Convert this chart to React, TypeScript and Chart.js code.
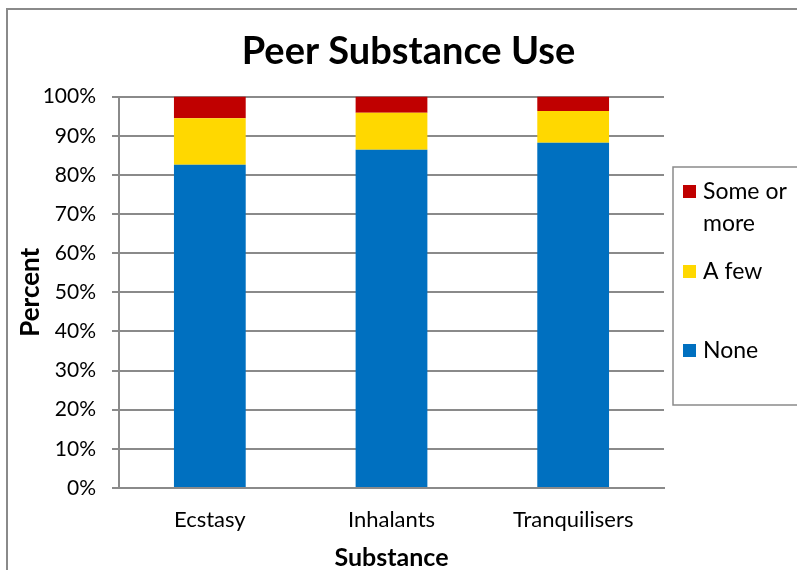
import React, { useEffect, useRef } from "react";
import { Chart, registerables } from "chart.js";

Chart.register(...registerables);

const categories = ["Ecstasy", "Inhalants", "Tranquilisers"];
const noneValues = [82.6, 86.4, 88.2];
const aFewValues = [11.9, 9.5, 8.1];
const someOrMoreValues = [5.5, 4.1, 3.7];
const yTicks = [0, 10, 20, 30, 40, 50, 60, 70, 80, 90, 100];
const seriesLabels = ["None", "A few", "Some or more"];
const seriesColors = ["#0070C0", "#FFD800", "#C00000"];

const FONT = "Lato, 'Noto Sans', sans-serif";

const framePlugin = {
  id: "frame",
  beforeDraw(chart: any) {
    const ctx = chart.ctx;
    ctx.save();
    ctx.fillStyle = "#ffffff";
    ctx.fillRect(0, 0, chart.width, chart.height);
    ctx.strokeStyle = "#8a8a8a";
    ctx.lineWidth = 2;
    ctx.strokeRect(7, 9, chart.width + 50, chart.height + 50);
    ctx.restore();
  },
};

const legendPlugin = {
  id: "customLegend",
  afterDraw(chart: any) {
    const ctx = chart.ctx;
    const x0 = 673;
    const y0 = 167;
    ctx.save();
    ctx.strokeStyle = "#8a8a8a";
    ctx.lineWidth = 1.5;
    ctx.strokeRect(x0, y0, 200, 238);
    ctx.font = `23px ${FONT}`;
    ctx.textBaseline = "middle";
    ctx.fillStyle = "#000";
    const ds = chart.data.datasets.slice().reverse();
    const rows = [191, 271, 350];
    ds.forEach((d: any, i: number) => {
      const cy = rows[i];
      ctx.fillStyle = d.backgroundColor;
      ctx.fillRect(x0 + 10, cy - 6, 13, 13);
      ctx.fillStyle = "#000";
      const label: string = d.label;
      if (label === "Some or more") {
        ctx.fillText("Some or", x0 + 30, cy + 1);
        ctx.fillText("more", x0 + 30, cy + 33);
      } else {
        ctx.fillText(label, x0 + 30, cy + 1);
      }
    });
    ctx.restore();
  },
};

export default function App() {
  const ref = useRef<HTMLCanvasElement | null>(null);
  useEffect(() => {
    if (!ref.current) return;
    const valuesList = [noneValues, aFewValues, someOrMoreValues];
    const chart = new Chart(ref.current, {
      type: "bar",
      data: {
        labels: categories,
        datasets: valuesList.map((vals, i) => ({
          label: seriesLabels[i],
          data: vals,
          backgroundColor: seriesColors[i],
          borderWidth: 0,
          barPercentage: 0.395,
          categoryPercentage: 1,
        })),
      },
      options: {
        animation: false,
        responsive: false,
        layout: { padding: 0 },
        plugins: {
          legend: { display: false },
          tooltip: { enabled: false },
          title: {
            display: true,
            text: "Peer Substance Use",
            color: "#000",
            font: { family: FONT, size: 38, weight: "bold", lineHeight: 1.2 },
            padding: { top: 29, bottom: 22 },
          },
        },
        scales: {
          x: {
            stacked: true,
            grid: { display: false },
            border: { display: true, color: "#8a8a8a", width: 2 },
            ticks: { color: "#000", font: { family: FONT, size: 22 }, padding: 11 },
            title: {
              display: true,
              text: "Substance",
              color: "#000",
              font: { family: FONT, size: 25, weight: "bold", lineHeight: 1.0 },
              padding: { top: 4, bottom: 0 },
            },
            afterFit: (s: any) => {
              s.height = 82;
            },
          },
          y: {
            stacked: true,
            min: 0,
            max: 100,
            afterBuildTicks: (s: any) => {
              s.ticks = yTicks.map((v) => ({ value: v }));
            },
            grid: { color: "#8a8a8a", lineWidth: 2, tickLength: 7, drawTicks: true },
            border: { display: true, color: "#8a8a8a", width: 2 },
            ticks: {
              color: "#000",
              font: { family: FONT, size: 21 },
              padding: 16,
              callback: (v: any) => v + "%",
            },
            title: {
              display: true,
              text: "Percent",
              color: "#000",
              font: { family: FONT, size: 26, weight: "bold", lineHeight: 1.2 },
              padding: { top: 15, bottom: 0 },
            },
            afterFit: (s: any) => {
              s.width = 119;
            },
          },
          yRight: {
            position: "right",
            display: true,
            grid: { display: false },
            border: { display: false },
            ticks: { display: false },
            afterFit: (s: any) => {
              s.width = 153;
            },
          },
        },
      },
      plugins: [framePlugin, legendPlugin],
    } as any);
    return () => chart.destroy();
  }, []);
  return (
    <div style={{ position: "fixed", left: 0, top: 0, width: 797, height: 570, overflow: "hidden", background: "#fff" }}>
      <canvas ref={ref} width={817} height={570} style={{ display: "block" }} />
    </div>
  );
}
